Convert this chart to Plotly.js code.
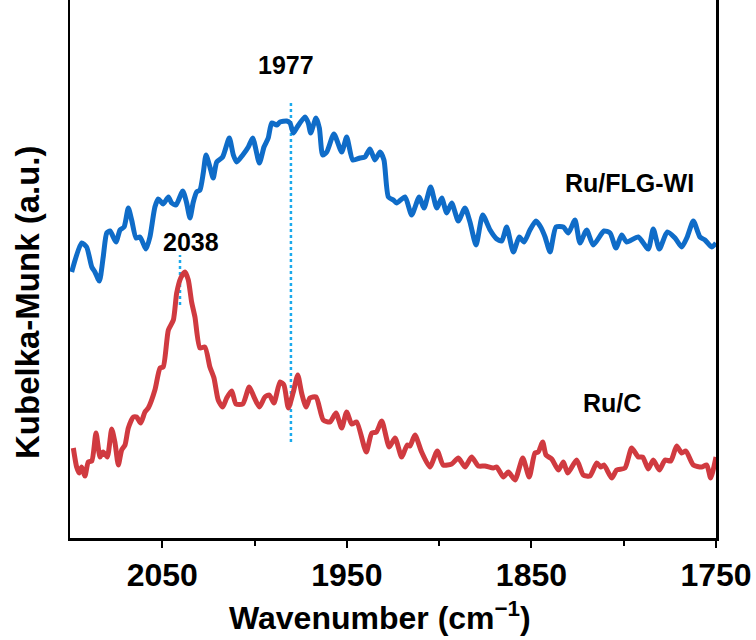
<!DOCTYPE html>
<html>
<head>
<meta charset="utf-8">
<script src="https://cdn.plot.ly/plotly-3.0.1.min.js"></script>
<style>html,body{margin:0;padding:0;background:#fff;}#chart{width:756px;height:640px;}</style>
</head>
<body>
<div id="chart"></div>
<script>
// Ru/FLG-WI (blue) spectrum: wavenumber (cm-1) and Kubelka-Munk intensity (a.u., offset)
const flgWavenumber = [2099.1,2093.7,2091.0,2088.2,2086.5,2084.1,2082.0,2080.1,2078.3,2075.1,2072.9,2070.7,2068.4,2066.6,2064.2,2062.1,2058.8,2056.7,2054.0,2052.2,2049.5,2046.7,2044.9,2042.6,2038.9,2036.8,2035.0,2033.2,2031.4,2029.6,2027.8,2026.3,2024.2,2022.4,2020.5,2017.3,2013.7,2011.5,2009.7,2006.4,2003.4,2001.0,1997.4,1994.9,1992.6,1990.7,1988.0,1986.2,1982.6,1980.8,1979.0,1976.9,1972.7,1970.9,1969.6,1966.7,1964.9,1963.1,1960.9,1957.0,1952.8,1950.1,1946.8,1942.9,1940.2,1937.5,1934.8,1932.0,1929.9,1927.5,1924.8,1923.0,1918.5,1914.9,1910.8,1908.2,1904.6,1901.3,1898.6,1895.9,1893.2,1889.6,1886.0,1883.3,1880.0,1876.4,1872.4,1868.8,1866.1,1863.4,1859.8,1856.6,1854.0,1850.8,1847.5,1845.0,1842.6,1839.9,1836.7,1832.7,1830.0,1826.4,1823.7,1820.1,1816.5,1810.7,1807.4,1804.2,1801.1,1798.4,1792.1,1786.7,1784.0,1780.7,1776.4,1772.2,1768.6,1765.6,1762.3,1758.7,1756.0,1752.3,1750.0];
const flgIntensity = [266,295,291,271,266,257,281,305,307,296,308,311,330,318,300,301,289,301,331,339,334,341,335,333,347,335,320,336,346,348,365,383,371,360,376,381,400,383,376,383,391,400,375,391,400,415,413,416,417,415,405,411,421,415,405,420,410,383,386,404,386,401,378,380,381,389,378,386,378,341,338,335,341,323,341,330,351,330,340,325,335,317,330,316,293,323,308,299,297,311,286,301,296,308,317,311,301,286,311,311,305,318,295,308,293,307,305,290,303,296,301,289,309,289,306,300,291,301,317,301,298,291,295];

// Ru/C (red) spectrum
const rucWavenumber = [2098.2,2096.4,2095.0,2093.7,2091.9,2090.1,2088.2,2085.9,2083.7,2082.0,2079.8,2077.4,2075.6,2073.8,2072.0,2070.2,2068.4,2065.7,2063.9,2061.7,2059.4,2057.6,2054.0,2051.2,2049.5,2046.7,2044.0,2042.2,2040.0,2037.7,2035.9,2034.1,2032.3,2029.6,2026.9,2024.2,2022.0,2019.7,2017.3,2015.1,2012.4,2010.1,2006.4,2002.9,2000.3,1997.4,1994.4,1992.0,1989.5,1986.2,1984.1,1981.7,1979.0,1976.6,1974.5,1972.1,1970.0,1966.7,1962.8,1959.1,1955.9,1952.8,1950.1,1947.4,1944.7,1939.5,1936.5,1934.0,1931.1,1927.0,1923.9,1920.3,1917.3,1915.8,1913.1,1909.5,1905.0,1901.0,1897.8,1893.2,1889.6,1886.0,1882.4,1878.8,1875.2,1870.7,1868.8,1865.2,1862.5,1858.9,1854.7,1851.2,1848.1,1846.3,1843.9,1842.1,1839.0,1835.4,1832.7,1830.3,1825.5,1821.9,1818.3,1814.6,1812.5,1810.7,1806.5,1803.8,1799.3,1795.7,1792.1,1789.7,1786.7,1784.0,1780.7,1777.6,1774.5,1771.3,1768.6,1766.3,1762.3,1757.8,1755.0,1752.9,1750.0];
const rucIntensity = [90,71,65,71,62,76,77,105,81,86,81,109,95,73,88,93,110,121,121,115,126,130,148,170,171,208,218,245,260,266,258,236,221,190,191,171,160,138,131,140,147,134,134,151,141,131,141,143,135,156,153,130,146,163,145,131,140,141,118,116,125,110,126,114,116,86,105,106,117,91,100,81,93,92,103,86,71,87,73,74,80,71,81,72,72,70,71,61,66,58,80,61,85,86,96,83,79,68,76,65,78,63,62,75,71,73,60,68,70,90,81,81,69,78,68,78,77,92,85,87,73,71,73,60,81];

// Peak marker lines (dotted) and their labels
const peakLineX = [2040.4, 1980.3];
const peakLineTop = [283, 438];
const peakLineBottom = [233, 96];
const peakLabels = ['2038', '1977'];
const peakLabelX = [2034.7, 1983.0];
const peakLabelY = [296, 473];

// Series labels
const seriesLabels = ['Ru/FLG-WI', 'Ru/C'];
const seriesLabelX = [1797.1, 1806.3];
const seriesLabelY = [355, 135];

// Axis ticks and titles
const majorTicks = [2050, 1950, 1850, 1750];
const minorTicks = [2000, 1900, 1800];
const xTitle = 'Wavenumber (cm<sup>−1</sup>)';
const yTitle = 'Kubelka-Munk (a.u.)';

const FONT = 'Liberation Sans, Arial, Helvetica, sans-serif';

const traces = [];
for (let i = 0; i < peakLineX.length; i++) {
  traces.push({
    x: [peakLineX[i], peakLineX[i]],
    y: [peakLineBottom[i], peakLineTop[i]],
    type: 'scatter', mode: 'lines',
    line: {color: '#1BAAEC', width: 2.5, dash: 'dot'},
    hoverinfo: 'skip', showlegend: false
  });
}
traces.push({
  x: flgWavenumber, y: flgIntensity, type: 'scatter', mode: 'lines',
  line: {color: '#0F6CC8', width: 5, shape: 'spline', smoothing: 0.6},
  showlegend: false
});
traces.push({
  x: rucWavenumber, y: rucIntensity, type: 'scatter', mode: 'lines',
  line: {color: '#D03A40', width: 5, shape: 'spline', smoothing: 0.6},
  showlegend: false
});

const annotations = [];
for (let i = 0; i < peakLabels.length; i++) {
  annotations.push({x: peakLabelX[i], y: peakLabelY[i], xref: 'x', yref: 'y', text: peakLabels[i],
    showarrow: false, font: {family: FONT, size: 25, color: '#000', weight: 'bold'}});
}
for (let i = 0; i < seriesLabels.length; i++) {
  annotations.push({x: seriesLabelX[i], y: seriesLabelY[i], xref: 'x', yref: 'y', text: seriesLabels[i],
    showarrow: false, font: {family: FONT, size: 25, color: '#000', weight: 'bold'}});
}
// Axis titles placed as annotations to match the reference position
annotations.push({x: (380 - 70) / 646, y: (538 - 616) / 538, xref: 'paper', yref: 'paper',
  xanchor: 'center', yanchor: 'middle', text: xTitle, showarrow: false,
  font: {family: FONT, size: 32, color: '#000', weight: 'bold'}});
annotations.push({x: (28 - 70) / 646, y: (538 - 302) / 538, xref: 'paper', yref: 'paper',
  xanchor: 'center', yanchor: 'middle', textangle: -90, text: yTitle, showarrow: false,
  font: {family: FONT, size: 33, color: '#000', weight: 'bold'}});

const layout = {
  width: 756, height: 640,
  margin: {l: 70, r: 40, t: 0, b: 102, pad: 0},
  paper_bgcolor: '#fff', plot_bgcolor: '#fff',
  font: {family: FONT, color: '#000'},
  xaxis: {
    range: [2100, 1750], tickmode: 'array', tickvals: majorTicks,
    ticks: 'outside', ticklen: 7, tickwidth: 2, tickcolor: '#000',
    minor: {tickmode: 'array', tickvals: minorTicks, ticks: 'outside', ticklen: 5, tickwidth: 2, tickcolor: '#000', showgrid: false},
    showline: true, linecolor: '#000', linewidth: 2.5,
    showgrid: false, zeroline: false,
    tickfont: {family: FONT, size: 32, color: '#000', weight: 'bold'}
  },
  yaxis: {
    range: [0, 538], showticklabels: false, ticks: '',
    showline: true, mirror: true, linecolor: '#000', linewidth: 2.5,
    showgrid: false, zeroline: false
  },
  annotations: annotations
};

Plotly.newPlot('chart', traces, layout, {displayModeBar: false, staticPlot: true});
</script>
</body>
</html>
